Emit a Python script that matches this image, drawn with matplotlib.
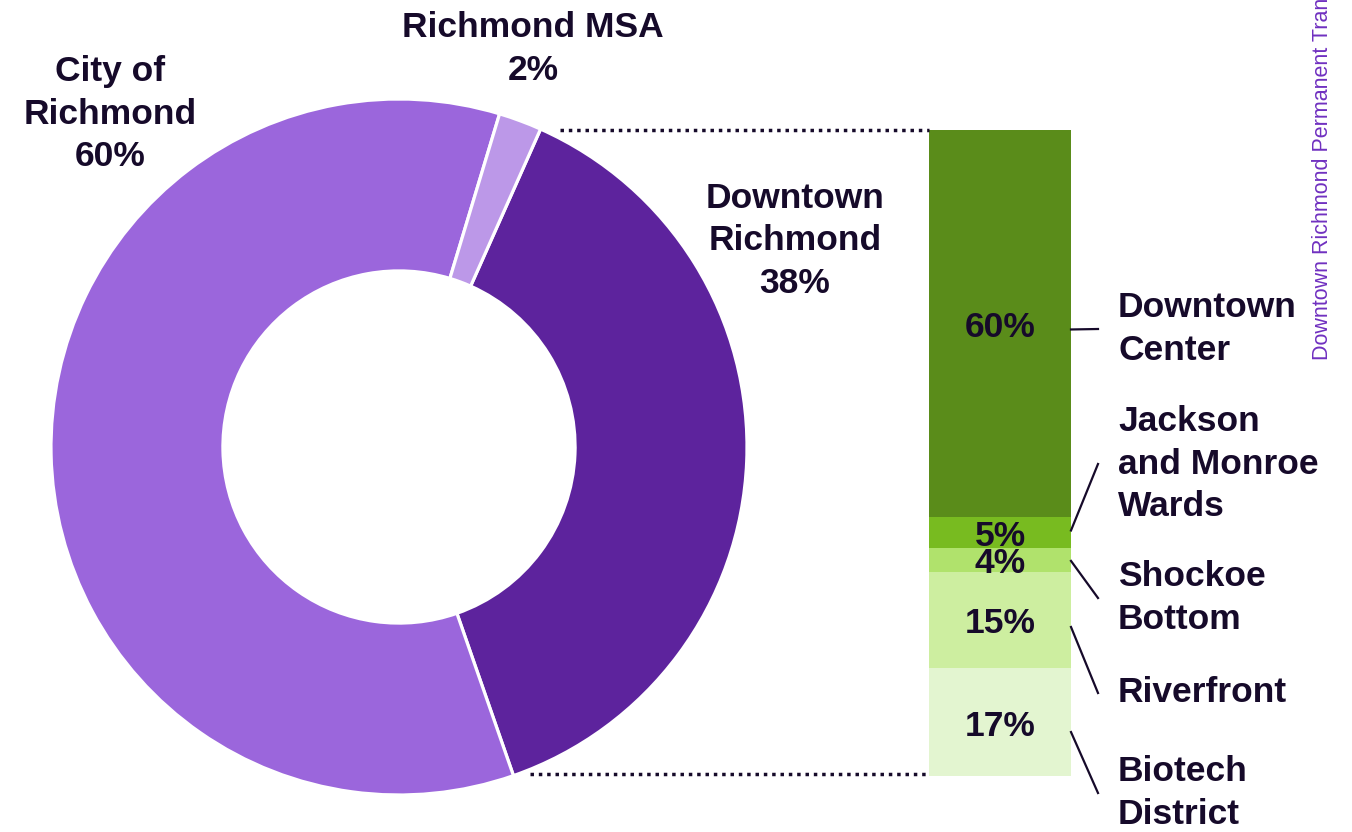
"""Donut of Richmond shares with a stacked bar breaking down the Downtown slice."""

import matplotlib
matplotlib.use("Agg")
import matplotlib.pyplot as plt

# donut data (clockwise from the Downtown slice)
ring_labels = ["Downtown\nRichmond", "City of\nRichmond", "Richmond MSA"]
ring_values = [38, 60, 2]
ring_colors = ["#5d239d", "#9b66dc", "#bc98e8"]

# breakdown of Downtown Richmond, bottom to top
area_labels = ["Biotech\nDistrict", "Riverfront", "Shockoe\nBottom",
               "Jackson\nand Monroe\nWards", "Downtown\nCenter"]
area_shares = [16.7, 14.9, 3.7, 4.8, 59.9]
area_colors = ["#e3f5d0", "#cdeea0", "#b0e26c", "#78bb20", "#5a8c1a"]

TEXT = "#160a2a"
W, H = 1352, 832
FS = 25.5
plt.rcParams["font.family"] = ["Liberation Sans", "DejaVu Sans"]

fig = plt.figure(figsize=(W / 100, H / 100), dpi=100)


def px_axes(x0, y0, x1, y1):
    # axes from pixel box (top-left origin)
    return fig.add_axes([x0 / W, (H - y1) / H, (x1 - x0) / W, (y1 - y0) / H])


# donut
ax_pie = px_axes(51, 99, 747, 795)
ax_pie.pie(ring_values, colors=ring_colors, startangle=66, counterclock=False,
           radius=1, wedgeprops=dict(width=0.494, edgecolor="white", linewidth=2.3))
ax_pie.set_xlim(-1, 1)
ax_pie.set_ylim(-1, 1)
ax_pie.set_aspect("equal")
ax_pie.axis("off")

# stacked bar
bar_top, bar_bot = 130, 776
ax_bar = px_axes(929, bar_top, 1071, bar_bot)
total = sum(area_shares)
px_per_unit = (bar_bot - bar_top) / total
bottom = 0
centers = []
for val, col in zip(area_shares, area_colors):
    ax_bar.bar(0, val, width=1, bottom=bottom, color=col, linewidth=0)
    # labels sit a few pixels below the segment middle
    ax_bar.text(0, bottom + val / 2 - 4 / px_per_unit, f"{val:.0f}%", ha="center",
                va="center", fontsize=FS, fontweight="bold", color=TEXT)
    centers.append(bottom + val / 2)
    bottom += val
ax_bar.set_xlim(-0.5, 0.5)
ax_bar.set_ylim(0, total)
ax_bar.axis("off")

# overlay in pixel coordinates for labels and connectors
ov = fig.add_axes([0, 0, 1, 1])
ov.set_xlim(0, W)
ov.set_ylim(H, 0)
ov.patch.set_visible(False)
ov.axis("off")

ring_label_pos = [(795, 241), (110, 114), (533, 49)]
for lab, val, (x, y) in zip(ring_labels, ring_values, ring_label_pos):
    ov.text(x, y, f"{lab}\n{val}%", ha="center", va="center", fontsize=FS,
            fontweight="bold", color=TEXT, linespacing=1.35)

# dotted connectors from donut to bar
ov.plot([560, 929], [bar_top, bar_top], color=TEXT, lw=2.5, linestyle=(0, (1, 1.4)),
        dash_capstyle="butt")
ov.plot([530, 929], [774, 774], color=TEXT, lw=2.5, linestyle=(0, (1, 1.4)),
        dash_capstyle="butt")

# bar labels with leader lines
label_y = [793, 693, 598, 464, 329]
start_offset = [10, 7, 1, -2, 6]
for lab, c, ly, off in zip(area_labels, centers, label_y, start_offset):
    sy = bar_bot - c * px_per_unit + off
    ov.plot([1071, 1098], [sy, ly], color=TEXT, lw=1.6)
    ov.text(1118, ly, lab, ha="left", va="center", fontsize=FS, fontweight="bold",
            color=TEXT, linespacing=1.35)

fig.text(1322 / W, (H - 360) / H, "Downtown Richmond Permanent Transit Riders",
         rotation=90, ha="center", va="bottom", fontsize=15.5, color="#7030c0")

fig.savefig("out.png", dpi=100)
